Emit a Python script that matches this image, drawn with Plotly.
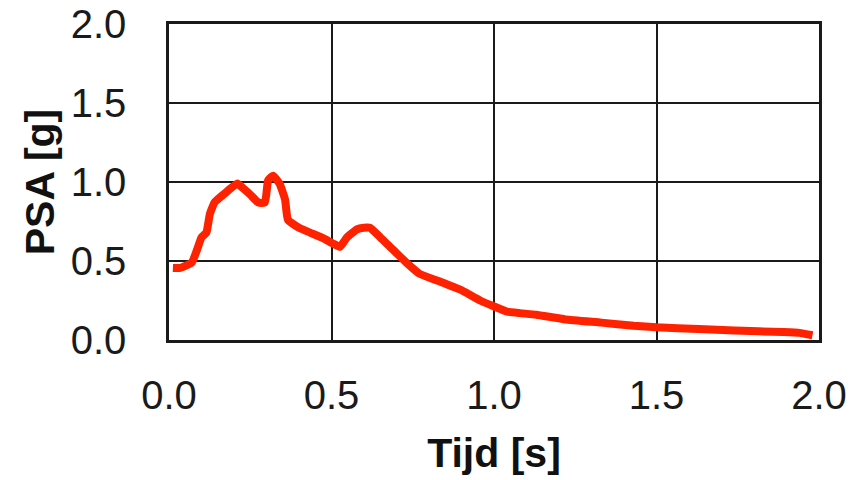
import plotly.graph_objects as go

period_s = [0.012, 0.034, 0.07, 0.086, 0.10, 0.115, 0.126, 0.14, 0.167, 0.21, 0.228, 0.25,
            0.275, 0.295, 0.305, 0.32, 0.34, 0.357, 0.366, 0.40, 0.434, 0.474, 0.505, 0.526,
            0.548, 0.578, 0.60, 0.618, 0.65, 0.68, 0.70, 0.73, 0.77, 0.834, 0.895, 0.957,
            0.997, 1.04, 1.08, 1.13, 1.22, 1.33, 1.43, 1.50, 1.63, 1.74, 1.89, 1.94, 1.98]
psa_g = [0.456, 0.456, 0.49, 0.57, 0.65, 0.68, 0.80, 0.87, 0.92, 0.99, 0.96, 0.92,
         0.87, 0.87, 1.01, 1.04, 0.99, 0.89, 0.76, 0.71, 0.68, 0.645, 0.61, 0.59,
         0.65, 0.70, 0.71, 0.71, 0.65, 0.59, 0.55, 0.49, 0.42, 0.37, 0.32, 0.25,
         0.215, 0.18, 0.17, 0.16, 0.13, 0.11, 0.09, 0.08, 0.07, 0.06, 0.05, 0.045, 0.03]

tick_vals = [0.0, 0.5, 1.0, 1.5, 2.0]
tick_text = ["0.0", "0.5", "1.0", "1.5", "2.0"]

x_title = "Tijd [s]"
y_title = "PSA [g]"

font_family = "Liberation Sans, Arial, sans-serif"

fig = go.Figure()
fig.add_trace(go.Scatter(
    x=period_s, y=psa_g, mode="lines",
    line=dict(color="#ff2200", width=8, shape="spline", smoothing=0.4),
    showlegend=False, hoverinfo="skip",
))

axis_common = dict(
    range=[0, 2],
    tickvals=tick_vals,
    ticktext=tick_text,
    showgrid=True,
    gridcolor="#1a1a1a",
    gridwidth=1.5,
    showline=True,
    linecolor="#1a1a1a",
    linewidth=2.5,
    mirror=True,
    zeroline=False,
    ticks="",
    automargin=False,
    ticklabeloverflow="allow",
    tickfont=dict(family=font_family, size=40, color="#1a1a1a"),
    fixedrange=True,
)

fig.update_xaxes(
    **axis_common,
    ticklabelstandoff=18,
    title=dict(text="<b>" + x_title + "</b>",
               font=dict(family=font_family, size=41, color="#111111"),
               standoff=23),
)
fig.update_yaxes(
    **axis_common,
    ticklabelstandoff=32,
    title=dict(text="<b>" + y_title + "</b>",
               font=dict(family=font_family, size=41, color="#111111"),
               standoff=4),
)

# The page body adds an 8px offset, so margins are compensated accordingly.
fig.update_layout(
    width=865, height=480,
    margin=dict(l=161, r=54, t=16, b=148),
    paper_bgcolor="white",
    plot_bgcolor="white",
)

fig.write_html("out.html")
